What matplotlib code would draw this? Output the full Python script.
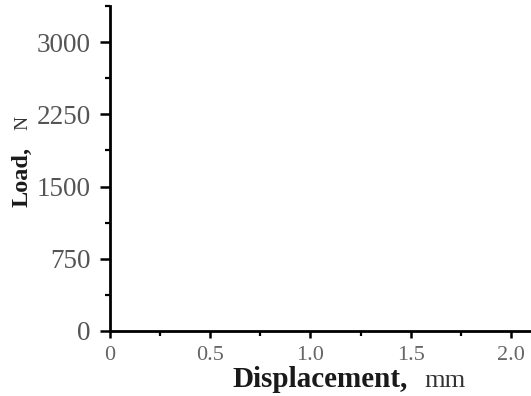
import matplotlib
matplotlib.use("Agg")
import matplotlib.pyplot as plt
from matplotlib.ticker import MultipleLocator

# axis settings (empty chart, no data series)
x_ticks = [0, 0.5, 1.0, 1.5, 2.0]
x_tick_labels = ["0", "0.5", "1.0", "1.5", "2.0"]
y_ticks = [0, 750, 1500, 2250, 3000]
y_tick_labels = ["0", "750", "1500", "2250", "3000"]
x_lim = (0, 2.1)
y_lim = (0, 3375)

plt.rcParams['font.family'] = ['Liberation Serif', 'DejaVu Serif']

W, H = 531, 396
fig = plt.figure(figsize=(W / 100, H / 100), dpi=100)
ax = fig.add_axes([110 / W, 1 - 331 / H, 1 - 110 / W, 325 / H])

ax.set_xlim(*x_lim)
ax.set_ylim(*y_lim)
ax.set_xticks(x_ticks)
ax.set_xticklabels(x_tick_labels)
ax.set_yticks(y_ticks)
ax.set_yticklabels(y_tick_labels)
ax.xaxis.set_minor_locator(MultipleLocator(0.25))
ax.yaxis.set_minor_locator(MultipleLocator(375))

for side in ['top', 'right']:
    ax.spines[side].set_visible(False)
for side in ['left', 'bottom']:
    ax.spines[side].set_linewidth(2.0)
    ax.spines[side].set_color('black')

ax.tick_params(which='both', direction='out', colors='black')
ax.tick_params(axis='y', which='major', length=7, width=1.8, labelsize=19.5,
               labelcolor='#555555', pad=7)
ax.tick_params(axis='y', which='minor', length=3.5, width=1.6)
ax.tick_params(axis='x', which='major', length=5, width=1.8, labelsize=16,
               labelcolor='#666666', pad=6)
ax.tick_params(axis='x', which='minor', length=3.5, width=1.6)

# axis titles: bold name + lighter unit, placed like the reference
fig.text(232 / W, 1 - 387 / H, "Displacement,", fontsize=21, fontweight='bold',
         color='#1a1a1a', ha='left', va='baseline')
fig.text(424 / W, 1 - 387 / H, "mm", fontsize=19, color='#333333',
         ha='left', va='baseline')
fig.text(27 / W, 1 - 207 / H, "Load,", fontsize=17.5, fontweight='bold',
         color='#1a1a1a', rotation=90, rotation_mode='anchor',
         ha='left', va='baseline')
fig.text(27 / W, 1 - 130 / H, "N", fontsize=14, color='#333333',
         rotation=90, rotation_mode='anchor', ha='left', va='baseline')

fig.savefig("out.png", dpi=100)
